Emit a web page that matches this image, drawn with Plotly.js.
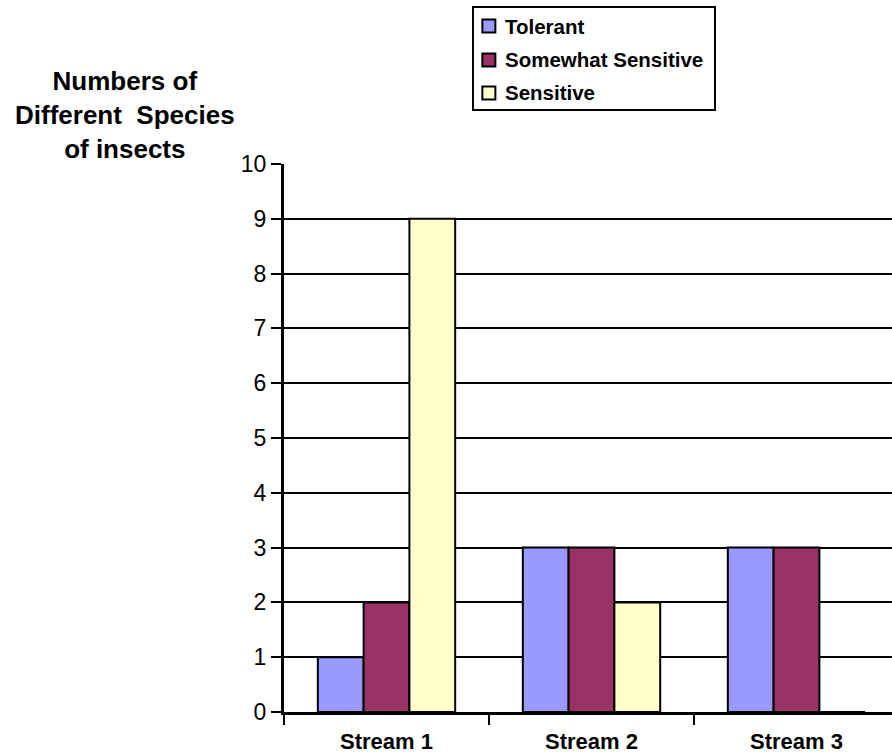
<!DOCTYPE html>
<html>
<head>
<meta charset="utf-8">
<script src="https://cdn.plot.ly/plotly-3.0.1.min.js"></script>
<style>
  html, body { margin: 0; padding: 0; overflow: hidden; background: #fff; }
  #chart { width: 900px; height: 755px; }
</style>
</head>
<body>
<div id="chart"></div>
<script>
// Insect species counts per stream, by pollution tolerance
const streams = ["Stream 1", "Stream 2", "Stream 3"];
const tolerant = [1, 3, 3];
const somewhatSensitive = [2, 3, 3];
const sensitive = [9, 2, 0];
const seriesNames = ["Tolerant", "Somewhat Sensitive", "Sensitive"];
const seriesColors = ["#9999FF", "#993366", "#FFFFCC"];
const yTicks = [0, 1, 2, 3, 4, 5, 6, 7, 8, 9, 10];

const FONT = "Arial, 'Liberation Sans', sans-serif";

const seriesValues = [tolerant, somewhatSensitive, sensitive];
const traces = seriesValues.map((vals, i) => ({
  type: "bar",
  name: seriesNames[i],
  x: streams,
  y: vals,
  marker: { color: seriesColors[i], line: { color: "#000", width: 2 } },
  hoverinfo: "x+y+name"
}));

// Boxed legend in the top margin: swatch + bold label per series
const legendBox = { x0: 0.3073, x1: 0.7008, y0: 1.0985, y1: 1.2865 };
const legendRowY = [1.2518, 1.1898, 1.1296];
const swatchX = 0.3331;
const labelX = 0.3561;

const shapes = [{
  type: "rect", xref: "paper", yref: "paper",
  x0: legendBox.x0, x1: legendBox.x1, y0: legendBox.y0, y1: legendBox.y1,
  line: { color: "#000", width: 2 }, fillcolor: "#fff", layer: "above"
}];
const annotations = [];
seriesNames.forEach((name, i) => {
  shapes.push({
    type: "rect", xref: "paper", yref: "paper",
    xsizemode: "pixel", ysizemode: "pixel",
    xanchor: swatchX, yanchor: legendRowY[i],
    x0: -6.5, x1: 6.5, y0: -6.5, y1: 6.5,
    line: { color: "#000", width: 2 }, fillcolor: seriesColors[i], layer: "above"
  });
  annotations.push({
    xref: "paper", yref: "paper",
    x: labelX, y: legendRowY[i], xanchor: "left", yanchor: "middle",
    text: name, showarrow: false,
    font: { family: FONT, size: 20.5, weight: "bold", color: "#000" }
  });
});

// Y-axis caption to the upper left of the plot
annotations.push({
  xref: "paper", yref: "paper",
  x: -0.2585, y: 1.0895, xanchor: "center", yanchor: "middle",
  text: "Numbers of<br>Different  Species<br>of insects",
  showarrow: false, align: "center",
  font: { family: FONT, size: 26, weight: "bold", color: "#000" }
});

const layout = {
  width: 900,
  height: 755,
  margin: { l: 284, r: 1, t: 164, b: 43, pad: 0 },
  paper_bgcolor: "#fff",
  plot_bgcolor: "#fff",
  font: { family: FONT, color: "#000" },
  barmode: "group",
  bargap: 0.33,
  bargroupgap: 0,
  showlegend: false,
  xaxis: {
    type: "category",
    range: [-0.5, 2.5],
    showline: true, linecolor: "#000", linewidth: 3,
    ticks: "outside", tickson: "boundaries", ticklen: 10, tickwidth: 2, tickcolor: "#000",
    tickfont: { family: FONT, size: 22, weight: "bold", color: "#000" },
    ticklabelstandoff: 8,
    showgrid: false, zeroline: false,
    fixedrange: true
  },
  yaxis: {
    range: [0, 10],
    tickvals: yTicks,
    ticktext: yTicks.map(String),
    showline: true, linecolor: "#000", linewidth: 3,
    ticks: "outside", ticklen: 10, tickwidth: 2, tickcolor: "#000",
    tickfont: { family: FONT, size: 23, color: "#000" },
    showgrid: true, gridcolor: "#000", gridwidth: 2,
    zeroline: false,
    fixedrange: true
  },
  shapes: shapes,
  annotations: annotations
};

Plotly.newPlot("chart", traces, layout, { displayModeBar: false, staticPlot: true });
</script>
</body>
</html>
